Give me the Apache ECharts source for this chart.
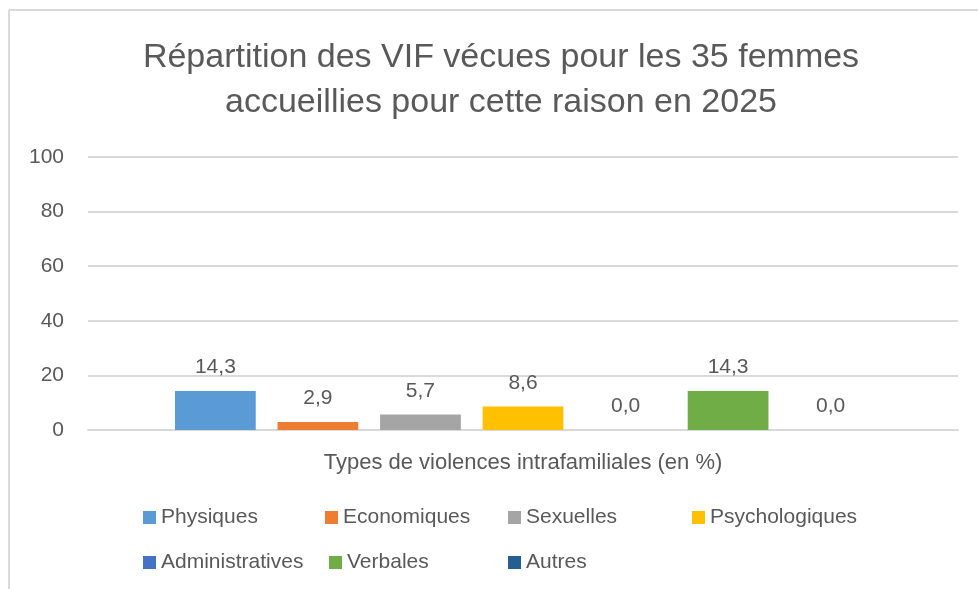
<!DOCTYPE html>
<html>
<head>
<meta charset="utf-8">
<script src="https://cdn.jsdelivr.net/npm/echarts@6/dist/echarts.min.js"></script>
<style>
html,body{margin:0;padding:0;background:#fff;}
#chart{width:978px;height:589px;}
</style>
</head>
<body>
<div id="chart"></div>
<script>
const titleText = "Répartition des VIF vécues pour les 35 femmes\naccueillies pour cette raison en 2025";
const axisName = "Types de violences intrafamiliales (en %)";
const categories = [""];
const seriesNames = ["Physiques", "Economiques", "Sexuelles", "Psychologiques", "Administratives", "Verbales", "Autres"];
const seriesValues = [14.3, 2.9, 5.7, 8.6, 0.0, 14.3, 0.0];
const seriesColors = ["#5B9BD5", "#ED7D31", "#A5A5A5", "#FFC000", "#4472C4", "#70AD47", "#255E91"];
const yTicks = { min: 0, max: 100, interval: 20 };

const FONT = "'Liberation Sans', Arial, sans-serif";
const TXT = "#595959";
const GRID = "#D9D9D9";

// legend item placement (layout only)
const legendLeft = [143, 325, 508, 692, 143, 329, 508];
const legendTop = [507, 507, 507, 507, 552, 552, 552];

const chart = echarts.init(document.getElementById('chart'), null, { renderer: 'canvas' });

const series = seriesNames.map((name, i) => ({
  name: name,
  type: 'bar',
  data: [seriesValues[i]],
  itemStyle: { color: seriesColors[i] },
  barCategoryGap: '20%',
  barGap: '27%',
  label: {
    show: true,
    position: 'top',
    distance: 13,
    color: TXT,
    fontFamily: FONT,
    fontSize: 21,
    formatter: p => p.value.toFixed(1).replace('.', ',')
  }
}));

const legends = seriesNames.map((name, i) => ({
  data: [name],
  left: legendLeft[i],
  top: legendTop[i],
  padding: 0,
  itemWidth: 13,
  itemHeight: 13,
  itemGap: 0,
  icon: 'rect',
  textStyle: { color: TXT, fontFamily: FONT, fontSize: 21 }
}));

chart.setOption({
  animation: false,
  backgroundColor: '#ffffff',
  textStyle: { fontFamily: FONT },
  title: {
    text: titleText,
    left: 496,
    textAlign: 'center',
    top: 30,
    textStyle: { color: TXT, fontFamily: FONT, fontSize: 34, fontWeight: 'normal', lineHeight: 45 }
  },
  grid: { left: 88, right: 20, top: 157, bottom: 159 },
  legend: legends,
  xAxis: {
    type: 'category',
    data: categories,
    name: axisName,
    nameLocation: 'middle',
    nameGap: 22,
    nameTextStyle: { color: TXT, fontFamily: FONT, fontSize: 22 },
    axisLine: { show: true, lineStyle: { color: GRID, width: 2 } },
    axisTick: { show: false },
    axisLabel: { show: false }
  },
  yAxis: {
    type: 'value',
    min: yTicks.min,
    max: yTicks.max,
    interval: yTicks.interval,
    axisLine: { show: false },
    axisTick: { show: false },
    axisLabel: { color: TXT, fontFamily: FONT, fontSize: 21, margin: 24 },
    splitLine: { lineStyle: { color: GRID, width: 2 } }
  },
  graphic: [
    { type: 'line', shape: { x1: 9, y1: 10, x2: 978, y2: 10 }, style: { stroke: GRID, lineWidth: 2 }, silent: true },
    { type: 'line', shape: { x1: 9, y1: 10, x2: 9, y2: 589 }, style: { stroke: GRID, lineWidth: 2 }, silent: true }
  ],
  series: series
});
</script>
</body>
</html>
